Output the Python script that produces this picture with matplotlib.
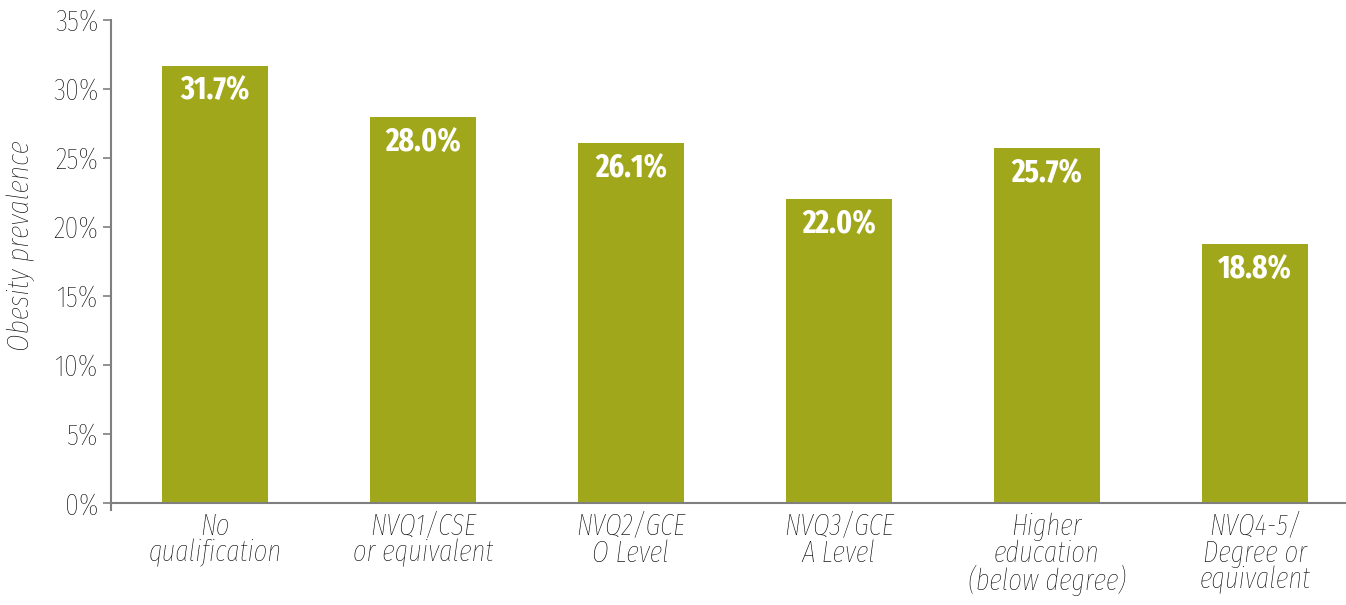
import matplotlib.pyplot as plt
import numpy as np

categories = ["No\nqualification", "NVQ1/CSE\nor equivalent", "NVQ2/GCE\nO Level",
              "NVQ3/GCE\nA Level", "Higher\neducation\n(below degree)",
              "NVQ4-5/\nDegree or\nequivalent"]
prevalence = [31.7, 28.0, 26.1, 22.0, 25.7, 18.8]
yticks = [0, 5, 10, 15, 20, 25, 30, 35]

bar_color = "#A1A71B"
grey = "#7f7f7f"
text_color = "#000000"
font = ["Fira Sans Extra Condensed", "DejaVu Sans"]

fig = plt.figure(figsize=(13.46, 6.05), dpi=100)
ax = fig.add_axes([111 / 1346, 1 - 510 / 605, 1 - 111 / 1346, (510 - 20) / 605])

x = np.arange(len(categories))
ax.bar(x, prevalence, width=0.51, color=bar_color, zorder=2)
ax.axhline(0, color=grey, lw=1.5, zorder=3)

for xi, v in zip(x, prevalence):
    ax.annotate(f"{v:.1f}%", (xi, v), xytext=(0, -26), textcoords="offset pixels",
                ha="center", va="center", color="white", fontsize=23,
                fontweight="bold", family=font)

ax.set_xlim(-0.5, 5.44)
ax.set_ylim(-0.5, 35)
ax.set_yticks(yticks)
ax.set_yticklabels([f"{t}%" for t in yticks], family=font, fontsize=22,
                   fontweight="light", color=text_color)
ax.tick_params(axis="y", length=6, width=1.2, color=grey, pad=3)
ax.set_xticks([])

for s in ["top", "right", "bottom"]:
    ax.spines[s].set_visible(False)
ax.spines["left"].set_color(grey)
ax.spines["left"].set_linewidth(1.5)

for xi, lab in zip(x, categories):
    ax.text(xi, -0.7, lab, ha="center", va="top", fontsize=21, style="italic",
            fontweight="light", family=font, color=text_color, linespacing=0.92)

ax.set_ylabel("Obesity prevalence", family=font, fontsize=22, style="italic",
              fontweight="light", color=text_color)
ax.yaxis.set_label_coords(-0.0615, 0.539)

fig.savefig("out.png", dpi=100)
